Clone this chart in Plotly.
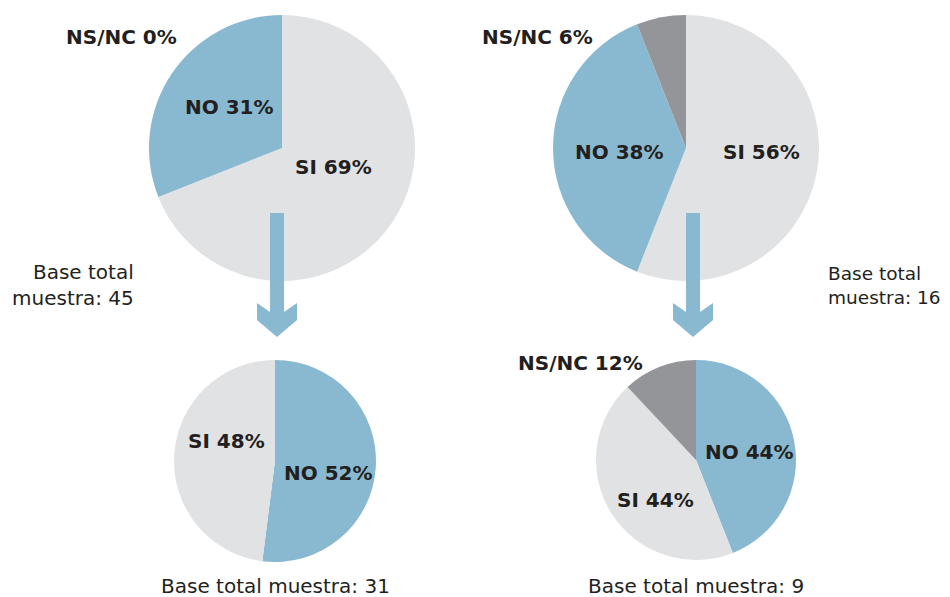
import plotly.graph_objects as go

# datos de las cuatro tartas
etiquetas_total1 = ["SI", "NO", "NS/NC"]
valores_total1 = [69, 31, 0]
base_total1 = 45

etiquetas_total2 = ["SI", "NO", "NS/NC"]
valores_total2 = [56, 38, 6]
base_total2 = 16

etiquetas_sub1 = ["NO", "SI"]
valores_sub1 = [52, 48]
base_sub1 = 31

etiquetas_sub2 = ["NO", "SI", "NS/NC"]
valores_sub2 = [44, 44, 12]
base_sub2 = 9

colores = {"SI": "#e1e2e4", "NO": "#88b9d1", "NS/NC": "#939598"}
TXT = "#231f20"
# la pagina deja 8px de margen en el body
OFF = 8
W, H = 950 - OFF, 597 - OFF


def px_x(x):
    return (x - OFF) / W


def px_y(y):
    return 1 - (y - OFF) / H


fig = go.Figure()

# centro y radio (px) de cada tarta, y donde van sus etiquetas
tartas = [
    (etiquetas_total1, valores_total1, (282, 148, 133),
     {"SI": (333, 167), "NO": (229, 107), "NS/NC": (121, 37)}),
    (etiquetas_total2, valores_total2, (686, 148, 133),
     {"SI": (761, 152), "NO": (619, 152), "NS/NC": (537, 37)}),
    (etiquetas_sub1, valores_sub1, (275, 461, 101),
     {"SI": (226, 441), "NO": (328, 473)}),
    (etiquetas_sub2, valores_sub2, (696, 460, 100),
     {"SI": (655, 500), "NO": (749, 452), "NS/NC": (580, 363)}),
]

for etq, vals, (cx, cy, r), pos in tartas:
    fig.add_trace(go.Pie(
        labels=etq, values=vals, sort=False, direction="clockwise", rotation=0,
        marker=dict(colors=[colores[e] for e in etq], line=dict(width=0)),
        textinfo="none", hoverinfo="skip", showlegend=False,
        domain=dict(x=[px_x(cx - r), px_x(cx + r)], y=[px_y(cy + r), px_y(cy - r)]),
    ))
    for e, v in zip(etq, vals):
        x, y = pos[e]
        fig.add_annotation(
            x=px_x(x), y=px_y(y), xref="paper", yref="paper", showarrow=False,
            xanchor="center", yanchor="middle",
            text=f"<b>{e} {v}%</b>",
            font=dict(family="DejaVu Sans", size=20, color=TXT),
        )

# textos de base
fuente_base = dict(family="DejaVu Sans", size=20, color=TXT)
fig.add_annotation(x=px_x(136), y=px_y(285), xref="paper", yref="paper",
                   xanchor="right", yanchor="middle", align="right", showarrow=False,
                   text=f"Base total<br>muestra: {base_total1}", font=fuente_base)
fig.add_annotation(x=px_x(826), y=px_y(285), xref="paper", yref="paper",
                   xanchor="left", yanchor="middle", align="left", showarrow=False,
                   text=f"Base total<br>muestra: {base_total2}",
                   font=dict(family="DejaVu Sans", size=18.5, color=TXT))
fig.add_annotation(x=px_x(275), y=px_y(586), xref="paper", yref="paper",
                   xanchor="center", yanchor="middle", showarrow=False,
                   text=f"Base total muestra: {base_sub1}", font=fuente_base)
fig.add_annotation(x=px_x(696), y=px_y(586), xref="paper", yref="paper",
                   xanchor="center", yanchor="middle", showarrow=False,
                   text=f"Base total muestra: {base_sub2}", font=fuente_base)


# flechas
def flecha(cx):
    pts = [(cx - 7, 213), (cx + 7, 213), (cx + 7, 312), (cx + 20, 303), (cx + 20, 320),
           (cx, 337), (cx - 20, 320), (cx - 20, 303), (cx - 7, 312)]
    d = "M " + " L ".join(f"{px_x(x)},{px_y(y)}" for x, y in pts) + " Z"
    fig.add_shape(type="path", path=d, xref="paper", yref="paper",
                  fillcolor="#88b9d1", line=dict(width=0), layer="above")


flecha(277)
flecha(693)

fig.update_layout(
    width=W, height=H, margin=dict(l=0, r=0, t=0, b=0),
    paper_bgcolor="white", plot_bgcolor="white",
)

fig.write_html("out.html")
